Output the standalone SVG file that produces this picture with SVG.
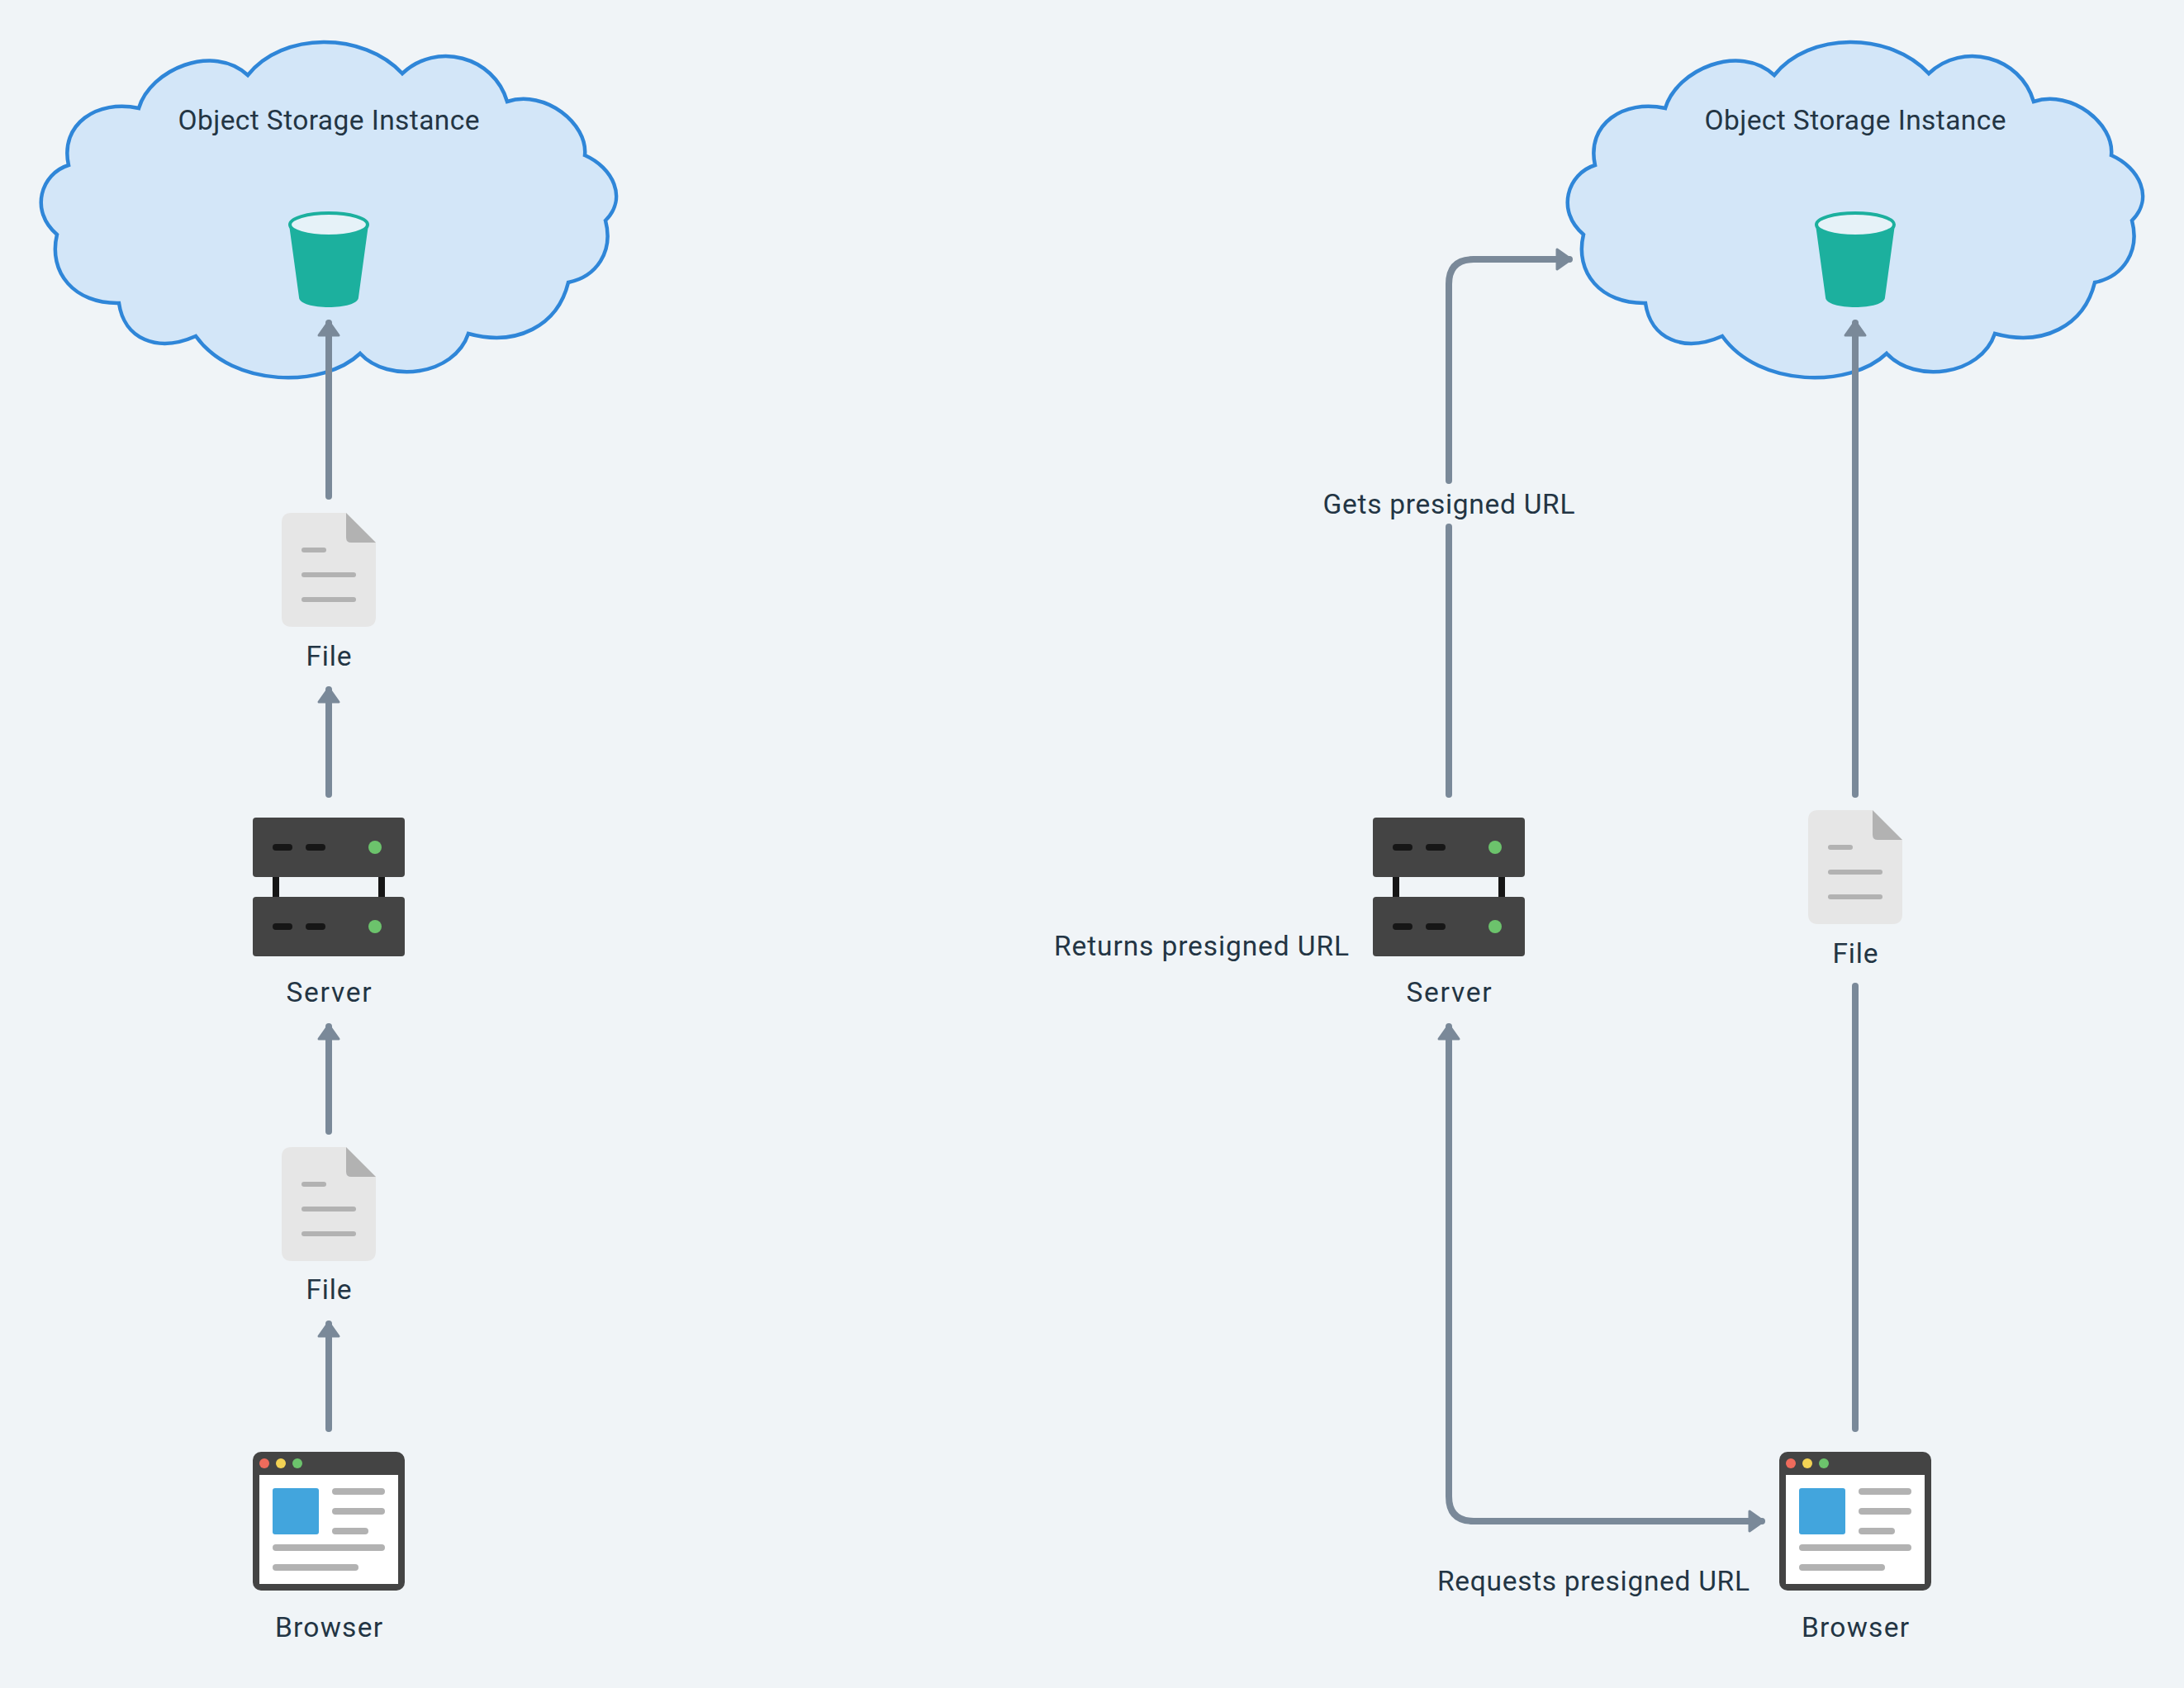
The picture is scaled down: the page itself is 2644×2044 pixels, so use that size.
<svg xmlns="http://www.w3.org/2000/svg" width="2644" height="2044" viewBox="0 0 2644 2044">
<style>
.t{font-family:"Roboto","Liberation Sans",sans-serif;font-size:33.5px;fill:#233544;-webkit-text-stroke:0.5px #233544}
.m{text-anchor:middle}
.c{fill:none;stroke:#7a8999;stroke-width:8;stroke-linecap:round;stroke-linejoin:round}
.cloud{fill:#d3e6f8;stroke:#2f86d8;stroke-width:4.5;stroke-linejoin:miter}
.g{fill:#b2b2b2}
.rack{fill:#444}
.dk{fill:#161616}
.led{fill:#6cc36c}
</style>
<defs>
<marker id="ah" markerUnits="userSpaceOnUse" markerWidth="40" markerHeight="40" refX="21" refY="16" orient="auto-start-reverse" viewBox="0 0 40 40">
<path d="M6 4 L23 16 L6 28Z" fill="#7a8999" stroke="#7a8999" stroke-width="3" stroke-linejoin="round"/>
</marker>
<path id="cl" class="cloud" d="M168 131 C182 84 258 52 300 91 C342 38 440 38 487 89 C528 50 598 68 614 123 C660 108 712 150 708 188 C742 203 760 240 733 267 C743 305 722 335 688 342 C675 395 625 420 567 404 C550 455 470 465 436 428 C392 470 282 470 237 407 C190 428 150 410 144 367 C90 368 58 330 69 284 C35 255 50 210 83 200 C72 150 118 120 168 131Z"/>
<g id="bucket-s">
<path d="M350 272 L362 360 C362 376 434 376 434 360 L446 272Z" fill="#1cb09e"/>
<ellipse cx="398" cy="272" rx="47" ry="14" fill="#e6f2f8" stroke="#1cb09e" stroke-width="4"/>
</g>
<g id="file-s">
<path d="M353 0 H419 V30 Q419 36 425 36 H455 V126 Q455 138 443 138 H353 Q341 138 341 126 V12 Q341 0 353 0Z" fill="#e6e6e6"/>
<path d="M419 0 L455 36 H425 Q419 36 419 30Z" class="g"/>
<rect x="365" y="42" width="30" height="6" rx="3" class="g"/>
<rect x="365" y="72" width="66" height="6" rx="3" class="g"/>
<rect x="365" y="102" width="66" height="6" rx="3" class="g"/>
</g>
<g id="server-s">
<rect x="330" y="1060" width="8" height="28" class="dk"/>
<rect x="458" y="1060" width="8" height="28" class="dk"/>
<rect x="306" y="990" width="184" height="72" rx="4" class="rack"/>
<rect x="306" y="1086" width="184" height="72" rx="4" class="rack"/>
<rect x="330" y="1022" width="24" height="8" rx="4" class="dk"/>
<rect x="370" y="1022" width="24" height="8" rx="4" class="dk"/>
<circle cx="454" cy="1026" r="8" class="led"/>
<rect x="330" y="1118" width="24" height="8" rx="4" class="dk"/>
<rect x="370" y="1118" width="24" height="8" rx="4" class="dk"/>
<circle cx="454" cy="1122" r="8" class="led"/>
</g>
<g id="browser-s">
<rect x="306" y="1758" width="184" height="168" rx="10" class="rack"/>
<rect x="314" y="1786" width="168" height="132" fill="#fff"/>
<circle cx="320" cy="1772" r="6" fill="#ee6b5c"/>
<circle cx="340" cy="1772" r="6" fill="#f2d254"/>
<circle cx="360" cy="1772" r="6" fill="#6cc36c"/>
<rect x="330" y="1802" width="56" height="56" rx="3" fill="#42a5dd"/>
<rect x="402" y="1802" width="64" height="8" rx="4" class="g"/>
<rect x="402" y="1826" width="64" height="8" rx="4" class="g"/>
<rect x="402" y="1850" width="44" height="8" rx="4" class="g"/>
<rect x="330" y="1870" width="136" height="8" rx="4" class="g"/>
<rect x="330" y="1894" width="104" height="8" rx="4" class="g"/>
</g>
</defs>
<rect width="2644" height="2044" fill="#f0f4f7"/>
<g id="cloud-left"><use href="#cl"/><text class="t m" x="398" y="157" textLength="365">Object Storage Instance</text></g>
<g id="bucket-left"><use href="#bucket-s"/></g>
<g id="file-left-top"><use href="#file-s" x="0" y="621"/><text class="t m" x="398" y="806" textLength="55">File</text></g>
<g id="server-left"><use href="#server-s"/><text class="t m" x="398" y="1213" textLength="103">Server</text></g>
<g id="file-left-bottom"><use href="#file-s" x="0" y="1389"/><text class="t m" x="398" y="1573" textLength="55">File</text></g>
<g id="browser-left"><use href="#browser-s"/><text class="t m" x="398" y="1982" textLength="130">Browser</text></g>
<g id="cloud-right"><use href="#cl" x="1848"/><text class="t m" x="2246" y="157" textLength="365">Object Storage Instance</text></g>
<g id="bucket-right"><use href="#bucket-s" x="1848"/></g>
<g id="server-right"><use href="#server-s" x="1356"/><text class="t m" x="1754" y="1213" textLength="103">Server</text></g>
<g id="file-right"><use href="#file-s" x="1848" y="981"/><text class="t m" x="2246" y="1166" textLength="55">File</text></g>
<g id="browser-right"><use href="#browser-s" x="1848"/><text class="t m" x="2246" y="1982" textLength="130">Browser</text></g>
<g id="connectors">
<path class="c" marker-end="url(#ah)" d="M398 601 V391"/>
<path class="c" marker-end="url(#ah)" d="M398 962 V835"/>
<path class="c" marker-end="url(#ah)" d="M398 1370 V1243"/>
<path class="c" marker-end="url(#ah)" d="M398 1730 V1603"/>
<path class="c" d="M1754 962 V638"/>
<path class="c" marker-end="url(#ah)" d="M1754 582 V344 Q1754 314 1784 314 H1900"/>
<path class="c" marker-end="url(#ah)" d="M2246 962 V391"/>
<path class="c" d="M2246 1730 V1194"/>
<path class="c" marker-start="url(#ah)" marker-end="url(#ah)" d="M1754 1243 V1812 Q1754 1842 1784 1842 H2133"/>
</g>
<g id="labels">
<text class="t m" x="1754" y="622" textLength="305">Gets presigned URL</text>
<text class="t" x="1276" y="1157" textLength="357">Returns presigned URL</text>
<text class="t" x="1740" y="1926" textLength="378">Requests presigned URL</text>
</g>
</svg>
